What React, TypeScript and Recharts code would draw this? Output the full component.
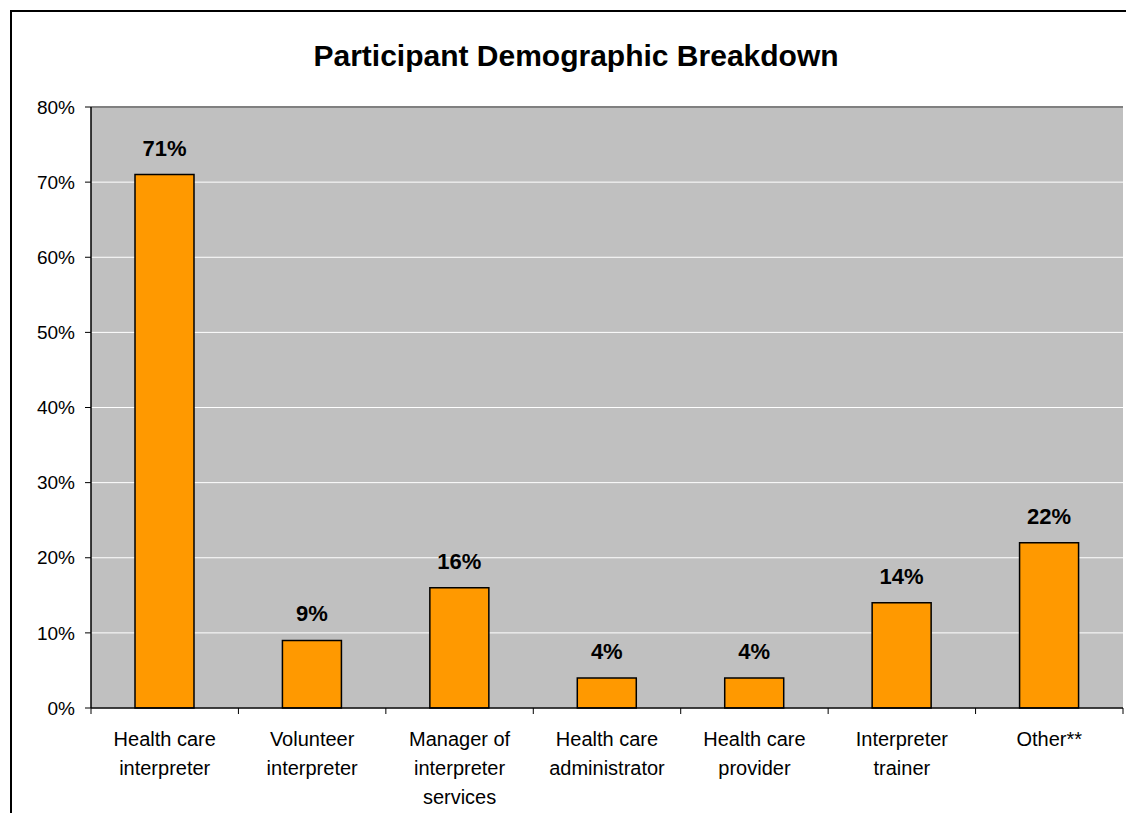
import { BarChart, Bar, XAxis, YAxis, CartesianGrid, LabelList, ReferenceLine } from 'recharts';

const categories = [
  'Health care\ninterpreter',
  'Volunteer\ninterpreter',
  'Manager of\ninterpreter\nservices',
  'Health care\nadministrator',
  'Health care\nprovider',
  'Interpreter\ntrainer',
  'Other**',
];
const percents = [71, 9, 16, 4, 4, 14, 22];
const yTicks = [0, 10, 20, 30, 40, 50, 60, 70, 80];

const data = categories.map((name, i) => ({ name, value: percents[i] }));

const FONT = 'Arial, "Liberation Sans", sans-serif';
const PLOT_LEFT = 91;
const PLOT_RIGHT = 1123;
const HALF_BAND = (PLOT_RIGHT - PLOT_LEFT) / categories.length / 2;

// tick y arrives already shifted by tickSize + tickMargin (6 + 2)
function CategoryTick(props: any) {
  const { x, y, payload, index } = props;
  const axisY = y - 8;
  const lines = String(payload.value).split('\n');
  return (
    <g>
      <line x1={x - HALF_BAND} y1={axisY} x2={x - HALF_BAND} y2={axisY + 6} stroke="#000" />
      {index === categories.length - 1 && (
        <line x1={x + HALF_BAND} y1={axisY} x2={x + HALF_BAND} y2={axisY + 6} stroke="#000" />
      )}
      {lines.map((line, i) => (
        <text key={i} x={x} y={axisY + 38 + i * 29} textAnchor="middle" fontSize={20} fontFamily={FONT} fill="#000">
          {line}
        </text>
      ))}
    </g>
  );
}

export default function App() {
  return (
    <div style={{ position: 'absolute', left: 0, top: 0, width: 1126, height: 813, background: '#fff', overflow: 'hidden' }}>
      <div style={{ position: 'absolute', left: 10, top: 10, width: 1140, height: 830, border: '2px solid #000' }} />
      <div
        style={{
          position: 'absolute',
          left: 0,
          top: 36,
          width: 1152,
          textAlign: 'center',
          fontFamily: FONT,
          fontWeight: 'bold',
          fontSize: 30,
          lineHeight: '40px',
          color: '#000',
        }}
      >
        Participant Demographic Breakdown
      </div>
      <div style={{ position: 'absolute', left: 0, top: 0 }}>
        <BarChart width={1126} height={813} data={data} margin={{ top: 107, right: 3, bottom: 0, left: 31 }}>
          <CartesianGrid fill="#C0C0C0" stroke="#fff" vertical={false} />
          <ReferenceLine y={80} stroke="#808080" strokeWidth={2} />
          <XAxis
            dataKey="name"
            height={105}
            interval={0}
            tickLine={false}
            axisLine={{ stroke: '#000', strokeWidth: 1.5 }}
            tick={<CategoryTick />}
          />
          <YAxis
            domain={[0, 80]}
            ticks={yTicks}
            width={60}
            interval={0}
            tickSize={6}
            tickMargin={10}
            tickFormatter={(v: number) => `${v}%`}
            tickLine={{ stroke: '#000' }}
            axisLine={{ stroke: '#000', strokeWidth: 1.5 }}
            tick={{ fontSize: 19, fontFamily: FONT, fill: '#000' }}
          />
          <YAxis
            yAxisId="right"
            orientation="right"
            width={0}
            tick={false}
            tickLine={false}
            axisLine={{ stroke: '#808080', strokeWidth: 2 }}
          />
          <Bar dataKey="value" fill="#FF9900" stroke="#000" strokeWidth={1.5} barSize={59} isAnimationActive={false}>
            <LabelList
              dataKey="value"
              position="top"
              offset={19}
              formatter={(v: any) => `${v}%`}
              style={{ fontSize: 22, fontWeight: 'bold', fontFamily: FONT, fill: '#000' }}
            />
          </Bar>
        </BarChart>
      </div>
    </div>
  );
}
